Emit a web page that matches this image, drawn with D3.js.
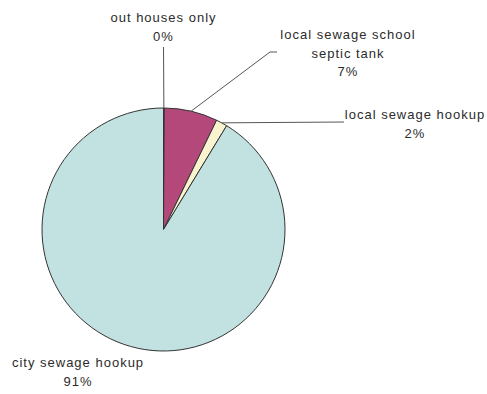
<!DOCTYPE html>
<html>
<head>
<meta charset="utf-8">
<script src="https://cdn.jsdelivr.net/npm/d3@7"></script>
<style>
  html, body { margin: 0; padding: 0; background: #fff; }
  svg { display: block; }
  text { font-family: "Liberation Sans", Arial, sans-serif; font-size: 13px; letter-spacing: 1px; fill: #2b2b2b; }
</style>
</head>
<body>
<script>
// Sewage disposal types (percent of total), clockwise from 12 o'clock
const categories = ["out houses only", "local sewage school septic tank", "local sewage hookup", "city sewage hookup"];
const values = [0.1, 7.1, 1.5, 91.3];
const colors = ["#F3E9C8", "#B5487A", "#FAF3CF", "#C2E2E1"];

const width = 487, height = 394;
const cx = 163.5, cy = 229.5, r = 121.5;

// Label lines and leader geometry, per category
const labelLayout = {
  "out houses only":                { lines: ["out houses only"], x: 163.5, y: 22, elbow: [163.5, 47], end: [163.5, 47] },
  "local sewage school septic tank": { lines: ["local sewage school", "septic tank"], x: 348, y: 39, elbow: [270, 52], end: [277, 52] },
  "local sewage hookup":            { lines: ["local sewage hookup"], x: 415, y: 119, elbow: null, end: [344, 122] },
  "city sewage hookup":             { lines: ["city sewage hookup"], x: 78, y: 367, elbow: null, end: null }
};

const data = categories.map((c, i) => ({ name: c, value: values[i], color: colors[i] }));
const total = d3.sum(values);

const svg = d3.select("body").append("svg")
  .attr("width", width).attr("height", height);

const g = svg.append("g").attr("transform", `translate(${cx},${cy})`);

const pie = d3.pie().sort(null).value(d => d.value).startAngle(0).endAngle(2 * Math.PI);
const arcs = pie(data);

const arc = d3.arc().innerRadius(0).outerRadius(r);
const rim = d3.arc().innerRadius(r).outerRadius(r);

// Leader lines (drawn first so the slices sit above them)
arcs.forEach(a => {
  const L = labelLayout[a.data.name];
  if (!L.end) return;
  const p0 = rim.centroid(a);
  const pts = [[p0[0] + cx, p0[1] + cy]];
  if (L.elbow) pts.push(L.elbow);
  pts.push(L.end);
  svg.append("path")
    .attr("d", d3.line()(pts))
    .attr("fill", "none")
    .attr("stroke", "#555")
    .attr("stroke-width", 1);
});

g.selectAll("path.slice")
  .data(arcs)
  .join("path")
  .attr("class", "slice")
  .attr("d", arc)
  .attr("fill", d => d.data.color)
  .attr("stroke", "#333")
  .attr("stroke-width", 1)
  .attr("stroke-linejoin", "round");

// Labels: name lines followed by rounded percent
const lineH = 18.5;
arcs.forEach(a => {
  const L = labelLayout[a.data.name];
  const pct = Math.round(a.data.value / total * 100) + "%";
  const t = svg.append("text").attr("text-anchor", "middle");
  [...L.lines, pct].forEach((s, i) => {
    t.append("tspan").attr("x", L.x).attr("y", L.y + i * lineH).text(s);
  });
});
</script>
</body>
</html>
